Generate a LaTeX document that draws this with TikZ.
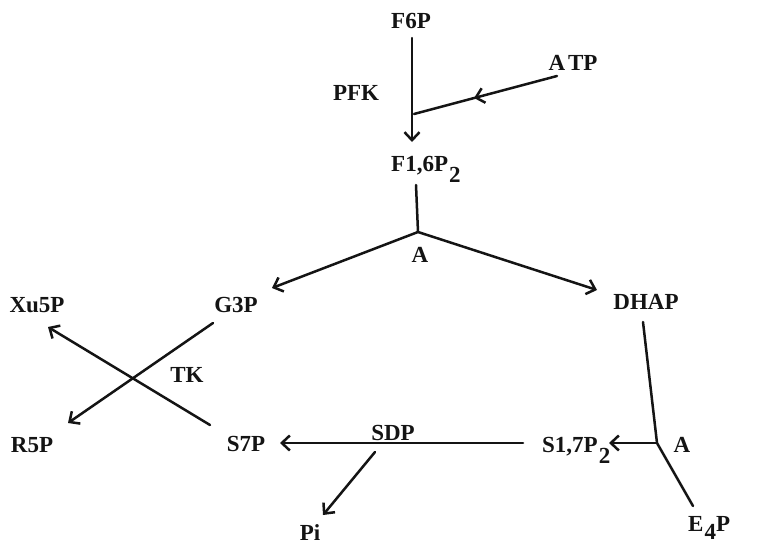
\documentclass[tikz,border=0pt]{standalone}
\usepackage{fontspec}
\setmainfont{Liberation Serif}
\usetikzlibrary{arrows.meta,decorations.markings}
\newcommand{\lowsub}[2][11pt]{\kern1pt\raisebox{-#1}{#2}}
\begin{document}
\begin{tikzpicture}[x=1pt,y=-1pt,
  lbl/.style={font=\fontsize{23}{25}\selectfont\bfseries, inner sep=0pt, text=black!92},
  conn/.style={line width=2.5pt, draw=black!92, line cap=round},
  arr/.style={conn, -{Straight Barb[length=8pt,width=15pt]}},
  midarr/.style={conn, postaction={decorate},
    decoration={markings, mark=at position 0.58 with {\arrow[line width=2.5pt]{Straight Barb[length=8pt,width=15pt]}}}}
]
\useasboundingbox[fill=white] (0,0) rectangle (757,546);

% labels
\node[lbl] (f6p) at (411,21) {F6P};
\node[lbl] (pfk) at (356,93) {PFK};
\node[lbl] (atp) at (573,63) {A\kern3pt TP};
\node[lbl, anchor=base west] (f16p) at (391,171) {F1,6P\lowsub{2}};
\node[lbl] (a1) at (420,255) {A};
\node[lbl] (g3p) at (236,305) {G3P};
\node[lbl] (xu5p) at (37,305) {Xu5P};
\node[lbl] (dhap) at (646,302) {DHAP};
\node[lbl] (tk) at (187,375) {TK};
\node[lbl] (r5p) at (32,445) {R5P};
\node[lbl] (s7p) at (246,444) {S7P};
\node[lbl] (sdp) at (393,433) {SDP};
\node[lbl] (pi) at (310,533) {Pi};
\node[lbl, anchor=base west] (s17p) at (542,452) {S1,7P\lowsub{2}};
\node[lbl] (a2) at (682,445) {A};
\node[lbl, anchor=base west] (e4p) at (688,531) {E\lowsub[8pt]{4}P};

% connector ends and junctions
\coordinate (f6p-out) at (412,38);
\coordinate (f16p-in) at (412,142);
\coordinate (atp-out) at (557,76);
\coordinate (j1) at (414,114);
\coordinate (f16p-out) at (416,185);
\coordinate (j2) at (418,232);
\coordinate (g3p-in) at (272,288);
\coordinate (dhap-in) at (597,290);
\coordinate (g3p-out) at (213,323);
\coordinate (r5p-in) at (68,423);
\coordinate (s7p-out) at (210,425);
\coordinate (xu5p-in) at (48,327);
\coordinate (s17p-out) at (523,443);
\coordinate (s7p-in) at (280,443);
\coordinate (sdp-out) at (375,452);
\coordinate (pi-in) at (323,515);
\coordinate (dhap-out) at (643,322);
\coordinate (j3) at (657,443);
\coordinate (e4p-out) at (693,506);
\coordinate (s17p-in) at (609,443);

% connectors
\draw[arr] (f6p-out) -- (f16p-in);
\draw[midarr] (atp-out) -- (j1);
\draw[conn] (f16p-out) -- (j2);
\draw[arr] (j2) -- (g3p-in);
\draw[arr] (j2) -- (dhap-in);
\draw[arr] (g3p-out) -- (r5p-in);
\draw[arr] (s7p-out) -- (xu5p-in);
\draw[arr] (s17p-out) -- (s7p-in);
\draw[arr] (sdp-out) -- (pi-in);
\draw[conn] (dhap-out) -- (j3) -- (e4p-out);
\draw[arr] (j3) -- (s17p-in);
\end{tikzpicture}
\end{document}
